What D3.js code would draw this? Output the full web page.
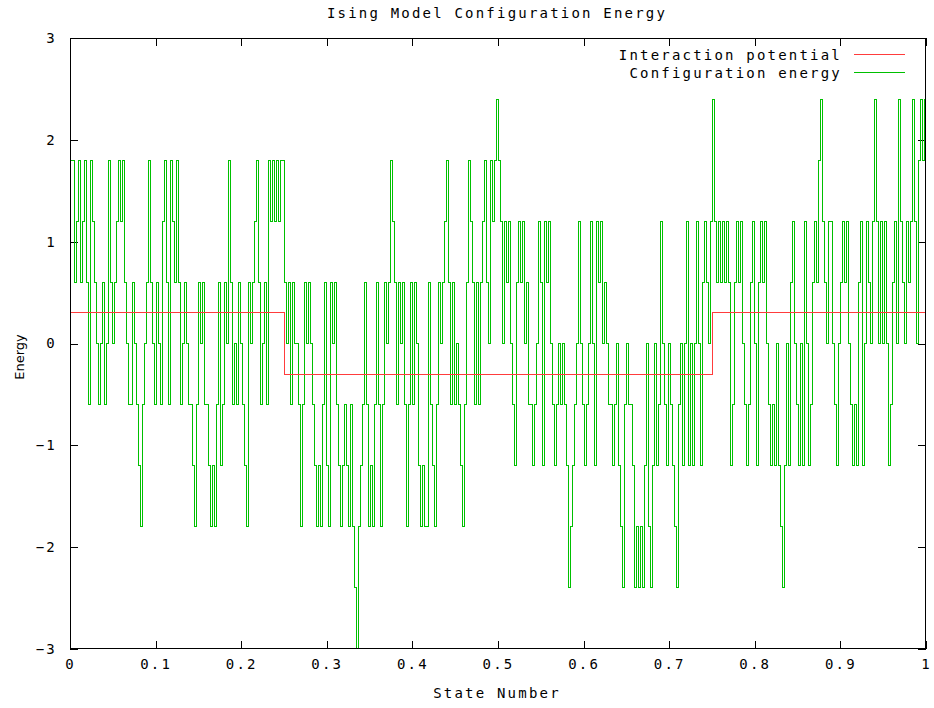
<!DOCTYPE html>
<html>
<head>
<meta charset="utf-8">
<script src="https://cdn.jsdelivr.net/npm/d3@7"></script>
<style>
  body { margin: 0; background: #fff; }
  svg text { font-family: "DejaVu Sans Mono", monospace; font-size: 14px; letter-spacing: 2.2px; fill: #000; }
  svg text.ylabel { font-family: "DejaVu Sans", sans-serif; font-size: 13px; letter-spacing: 0; }
</style>
</head>
<body>
<div id="chart"></div>
<script>
// configuration energy, one value per state
var energy = [
  1.8, 1.8, 0.6, 1.2, 1.8, 0.6, 1.2, 1.8, 0.6, -0.6,
  1.8, 1.2, 0.6, 0, -0.6, 0, 0.6, -0.6, 0, 1.8,
  0.6, 0, 0.6, 1.2, 1.8, 1.2, 1.8, 0.6, 0, -0.6,
  -0.6, 0.6, 0, -0.6, -1.2, -1.8, -0.6, 0, 0.6, 1.8,
  0.6, 0, -0.6, 0.6, 0, -0.6, 1.2, 1.8, 0.6, -0.6,
  1.8, 1.2, 0.6, 1.8, 0.6, -0.6, 0, 0.6, 0, -0.6,
  -0.6, -1.2, -1.8, -0.6, 0.6, 0, 0.6, -0.6, -0.6, -1.2,
  -1.8, -1.2, -1.8, -0.6, 0.6, -1.2, -0.6, 0.6, 0, 1.8,
  0.6, -0.6, 0, -0.6, 0.6, 0, -0.6, -1.2, -1.8, 0.6,
  0, 0.6, 1.2, 1.8, 0.6, -0.6, 0, 0.6, -0.6, 1.8,
  1.2, 1.8, 1.2, 1.8, 1.2, 1.8, 1.8, 0.6, 0, 0.6,
  -0.6, 0.6, 0, 0, -0.6, -1.8, -0.6, 0.6, 0, 0.6,
  0, -0.6, -1.2, -1.8, -1.2, -1.8, -0.6, 0.6, -1.2, -1.8,
  0.6, 0, 0.6, -0.6, -1.2, -1.8, -1.2, -0.6, -1.2, -1.8,
  -0.6, -1.8, -2.4, -3, -1.8, -1.2, -0.6, 0.6, -0.6, -1.8,
  -1.2, -1.8, -0.6, 0.6, -0.6, -1.8, -0.6, 0.6, 0, 0.6,
  1.8, 1.2, 0.6, -0.6, 0.6, 0, 0.6, -0.6, -1.8, -0.6,
  0.6, -0.6, 0.6, 0, -1.2, -1.8, -1.2, -1.8, -1.8, 0.6,
  -0.6, -1.2, -1.8, -0.6, 0.6, 0, 0.6, 1.2, 1.8, 0.6,
  -0.6, 0.6, -0.6, 0, -0.6, -1.2, -1.8, -0.6, 0.6, 1.8,
  1.2, 0.6, -0.6, 0.6, -0.6, 0.6, 1.2, 1.8, 0.6, 0,
  1.8, 1.2, 1.8, 2.4, 1.8, 1.2, 0, 1.2, 0.6, 1.2,
  0, -0.6, -1.2, 0.6, 1.2, 0.6, 1.2, 0, 0.6, -0.6,
  -0.6, -1.2, -0.6, 0, 1.2, 0.6, -1.2, 1.2, 0.6, 1.2,
  0, -0.6, -1.2, -0.6, 0, -0.6, 0, -0.6, -1.2, -2.4,
  -1.8, -1.2, -0.6, 0, 1.2, 0, -0.6, -1.2, -0.6, 0,
  1.2, 0, -1.2, 1.2, 0.6, 1.2, 0, 0.6, 0, -0.6,
  -0.6, -1.2, -0.6, 0, -1.2, -1.8, -2.4, -0.6, 0, -0.6,
  -0.6, -1.2, -2.4, -1.8, -2.4, -1.8, -2.4, -1.2, 0, -1.8,
  -2.4, -1.2, 0, -1.2, -0.6, 1.2, 0, -0.6, -1.2, 0,
  -0.6, -1.2, -1.8, -2.4, -0.6, 0, -1.2, 0, 1.2, -1.2,
  0, -1.2, 0, 1.2, 0, -1.2, 0.6, 1.2, 0.6, 0,
  1.2, 2.4, 1.2, 0.6, 1.2, 0.6, 1.2, 0.6, 1.2, 0.6,
  -1.2, -0.6, 0.6, 1.2, 0.6, 1.2, 0, -0.6, -1.2, -0.6,
  0.6, 1.2, 0, -1.2, 0.6, 1.2, 0.6, 1.2, 0, -0.6,
  -1.2, -0.6, -1.2, 0, -1.2, -1.8, -2.4, -1.2, 0, -1.2,
  0.6, 1.2, 0, -0.6, -1.2, 0, -1.2, 1.2, 0, -1.2,
  -0.6, 0.6, 1.2, 0.6, 1.8, 2.4, 1.2, 0.6, 0, 1.2,
  1.2, 0, -0.6, -1.2, 0, 0.6, 1.2, 0.6, 1.2, 0,
  -0.6, -1.2, -0.6, -1.2, 0.6, 1.2, -1.2, 0, 1.2, 0.6,
  0, 1.2, 2.4, 1.2, 0, 1.2, 0, 1.2, 0, -1.2,
  -0.6, 0.6, 1.2, 0, 2.4, 1.2, 0.6, 0, 1.2, 0.6,
  1.2, 2.4, 1.2, 0, 1.8, 2.4, 1.8, 2.4
];

// interaction potential: value holds from each break to the next
var potentialX = [0, 0.25, 0.75, 1];
var potentialY = [0.3, -0.3, 0.3, 0.3];

var xTicks = [0, 0.1, 0.2, 0.3, 0.4, 0.5, 0.6, 0.7, 0.8, 0.9, 1];
var xTickLabels = ["0", "0.1", "0.2", "0.3", "0.4", "0.5", "0.6", "0.7", "0.8", "0.9", "1"];
var yTicks = [-3, -2, -1, 0, 1, 2, 3];
var yTickLabels = ["\u22123", "\u22122", "\u22121", "0", "1", "2", "3"];

var seriesNames = ["Interaction potential", "Configuration energy"];
var seriesColors = ["#ff3c3c", "#00c000"];

var width = 934, height = 708;
var margin = {top: 38, right: 8, bottom: 59, left: 70};

var x = d3.scaleLinear().domain([0, 1]).range([margin.left, width - margin.right]);
var y = d3.scaleLinear().domain([-3, 3]).range([height - margin.bottom, margin.top]);

var svg = d3.select("#chart").append("svg")
    .attr("width", width)
    .attr("height", height);

svg.append("defs").append("clipPath")
    .attr("id", "clip")
  .append("rect")
    .attr("x", margin.left)
    .attr("y", margin.top)
    .attr("width", width - margin.left - margin.right)
    .attr("height", height - margin.top - margin.bottom);

function styleAxis(g) {
  g.select(".domain").remove();
  g.selectAll(".tick line").attr("stroke", "#000").attr("shape-rendering", "crispEdges");
  g.attr("font-family", null).attr("font-size", null);
}

// bottom + top
svg.append("g")
    .attr("transform", "translate(0," + (height - margin.bottom) + ")")
    .call(d3.axisBottom(x).tickValues(xTicks)
      .tickFormat(function(d, i) { return xTickLabels[i]; })
      .tickSizeInner(-8).tickSizeOuter(0).tickPadding(10))
    .call(styleAxis);

svg.append("g")
    .attr("transform", "translate(0," + margin.top + ")")
    .call(d3.axisTop(x).tickValues(xTicks).tickFormat("")
      .tickSizeInner(-8).tickSizeOuter(0))
    .call(styleAxis);

// left + right
svg.append("g")
    .attr("transform", "translate(" + margin.left + ",0)")
    .call(d3.axisLeft(y).tickValues(yTicks)
      .tickFormat(function(d, i) { return yTickLabels[i]; })
      .tickSizeInner(-8).tickSizeOuter(0).tickPadding(13))
    .call(styleAxis);

svg.append("g")
    .attr("transform", "translate(" + (width - margin.right) + ",0)")
    .call(d3.axisRight(y).tickValues(yTicks).tickFormat("")
      .tickSizeInner(-8).tickSizeOuter(0))
    .call(styleAxis);

var stepLine = d3.line()
    .curve(d3.curveStepAfter)
    .x(function(d) { return x(d[0]); })
    .y(function(d) { return y(d[1]); });

var energyPts = energy.map(function(v, i) { return [i / energy.length, v]; });
energyPts.push([1, energy[energy.length - 1]]);

var potentialPts = potentialX.map(function(v, i) { return [v, potentialY[i]]; });

var lines = svg.append("g").attr("clip-path", "url(#clip)");

lines.append("path")
    .datum(energyPts)
    .attr("fill", "none")
    .attr("stroke", seriesColors[1])
    .attr("stroke-width", 1)
    .attr("shape-rendering", "crispEdges")
    .attr("d", stepLine);

lines.append("path")
    .datum(potentialPts)
    .attr("fill", "none")
    .attr("stroke", seriesColors[0])
    .attr("stroke-width", 1)
    .attr("shape-rendering", "crispEdges")
    .attr("d", stepLine);

// frame
svg.append("rect")
    .attr("x", margin.left + 0.5)
    .attr("y", margin.top + 0.5)
    .attr("width", width - margin.left - margin.right - 1)
    .attr("height", height - margin.top - margin.bottom - 1)
    .attr("fill", "none")
    .attr("stroke", "#000")
    .attr("shape-rendering", "crispEdges");

// legend
var legend = svg.append("g");
seriesNames.forEach(function(name, i) {
  var ly = 55 + i * 18;
  legend.append("text")
      .attr("x", 842)
      .attr("y", ly)
      .attr("dy", "0.35em")
      .attr("text-anchor", "end")
      .text(name);
  legend.append("line")
      .attr("x1", 854).attr("x2", 905)
      .attr("y1", ly - 0.5).attr("y2", ly - 0.5)
      .attr("stroke", seriesColors[i])
      .attr("shape-rendering", "crispEdges");
});

// titles
svg.append("text")
    .attr("x", 497)
    .attr("y", 13)
    .attr("dy", "0.35em")
    .attr("text-anchor", "middle")
    .text("Ising Model Configuration Energy");

svg.append("text")
    .attr("x", 497)
    .attr("y", 693)
    .attr("dy", "0.35em")
    .attr("text-anchor", "middle")
    .text("State Number");

svg.append("text")
    .attr("class", "ylabel")
    .attr("transform", "translate(19," + 357 + ") rotate(-90)")
    .attr("dy", "0.35em")
    .attr("text-anchor", "middle")
    .text("Energy");
</script>
</body>
</html>
